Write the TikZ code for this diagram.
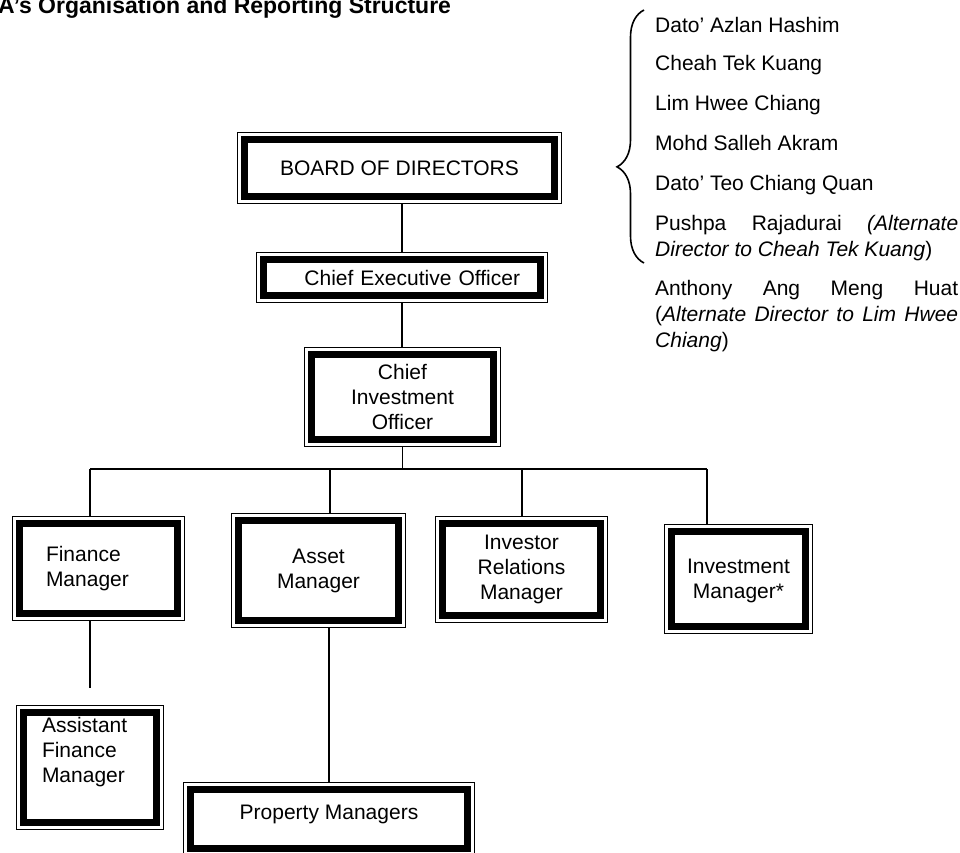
\documentclass[tikz,border=0pt]{standalone}
\usepackage{fontspec}
\setmainfont{Liberation Sans}
\usetikzlibrary{decorations.pathreplacing}
\begin{document}
\begin{tikzpicture}[x=1pt, y=-1pt,
    role/.style = {inner sep=0pt, align=center, font=\fontsize{21}{25}\selectfont,
      append after command={\pgfextra{\let\boxnode\tikzlastnode
        \draw[line width=1.2pt] (\boxnode.south west) rectangle (\boxnode.north east);
        \draw[line width=6.5pt] ([shift={(6.5pt,6.5pt)}]\boxnode.south west) rectangle ([shift={(-6.5pt,-6.5pt)}]\boxnode.north east);}}},
    director/.style = {anchor=base west, inner sep=0pt, text width=303pt, align=justify, font=\fontsize{21}{26}\selectfont},
    link/.style = {line width=1.4pt}]
		\useasboundingbox (0,0) rectangle (960,852);
		\node[anchor=base west, inner sep=0pt, font=\fontsize{23}{27}\selectfont\bfseries] (title) at (-2,13.5) {A's Organisation and Reporting Structure};
		\node[role, minimum width=323pt, minimum height=70pt] (bod) at (399.5,168) {BOARD OF DIRECTORS};
		\node[role, minimum width=290pt, minimum height=49pt, text width=236pt, align=right] (ceo) at (402,277.5) {Chief Executive Officer};
		\node[role, minimum width=195pt, minimum height=98pt] (cio) at (402.5,397) {Chief\\Investment\\Officer};
		\node[role, minimum width=171pt, minimum height=103pt, text width=105pt, align=left] (fm) at (98.5,568.5) {Finance\\Manager};
		\node[role, minimum width=173pt, minimum height=113pt] (am) at (318.5,570.5) {Asset\\Manager};
		\node[role, minimum width=171pt, minimum height=105pt] (irm) at (521.5,569.5) {Investor\\Relations\\Manager};
		\node[role, minimum width=147pt, minimum height=108pt, text depth=0pt] (im) at (738.5,579) {Investment\\Manager*};
		\node[role, minimum width=146pt, minimum height=123pt, text width=96pt, align=left, text depth=86pt] (afm) at (90,767.5) {Assistant\\Finance\\Manager};
		\node[role, minimum width=290pt, minimum height=72pt, text depth=13.4pt] (pm) at (329,819) {Property Managers};
		\coordinate (fm-drop) at (90,469);
		\coordinate (am-drop) at (330,469);
		\coordinate (irm-drop) at (522,469);
		\coordinate (im-drop) at (707,469);
		\coordinate (afm-stub) at (90,688);
		\draw[link] (ceo.north |- bod.south) -- (ceo.north);
		\draw[link] (ceo.south) -- (ceo.south |- cio.north);
		\draw[link] (cio.south) -- (cio.south |- fm-drop);
		\draw[link] (fm-drop) -- (im-drop);
		\foreach \n in {fm,am,irm,im}
			\draw[link] (\n-drop) -- (\n-drop |- \n.north);
		\draw[link] (afm-stub |- fm.south) -- (afm-stub);
		\draw[link] (pm.north |- am.south) -- (pm.north);
		\draw[line width=1.6pt, decorate, decoration={brace, amplitude=27pt, aspect=0.38}] (644,263) -- (644,10);
		\foreach \y/\name [count=\i] in {32/{Dato' Azlan Hashim}, 70/{Cheah Tek Kuang}, 110/{Lim Hwee Chiang}, 150/{Mohd Salleh Akram}, 190/{Dato' Teo Chiang Quan},
				230/{Pushpa Rajadurai \textit{(Alternate}\linebreak\textit{Director to Cheah Tek Kuang})},
				295/{Anthony Ang Meng Huat\linebreak(\textit{Alternate Director to Lim Hwee}\linebreak\textit{Chiang})}}
			\node[director] (d\i) at (655,\y) {\name};
	\end{tikzpicture}
\end{document}
